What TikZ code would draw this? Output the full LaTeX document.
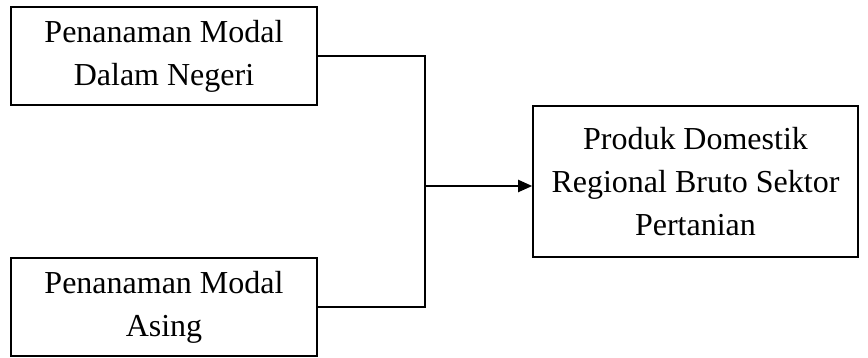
\documentclass[tikz,border=0pt]{standalone}
\usepackage{fontspec}
\setmainfont{Liberation Serif}
\usetikzlibrary{positioning, arrows.meta}

\begin{document}
\begin{tikzpicture}[x=1pt, y=1pt,
      vbox/.style={rectangle, draw=black, line width=0.8pt, inner sep=0pt,
                   minimum width=153pt, minimum height=49pt, align=center,
                   font=\fontsize{16}{21.5}\selectfont},
      ybox/.style={vbox, minimum width=162.5pt, minimum height=75.5pt},
      lnk/.style={draw=black, line width=1pt},
      arr/.style={-{Triangle[length=7pt, width=6pt]}, draw=black, line width=1pt}
    ]
    \useasboundingbox (0,0) rectangle (434,179);

    \node[vbox] (pmdn) at (82, 151)   {Penanaman Modal\\Dalam Negeri};
    \node[vbox] (pma)  at (82, 25.5)  {Penanaman Modal\\Asing};
    \node[ybox] (pdrb) at (347.75, 88.25)
          {Produk Domestik\\Regional Bruto Sektor\\Pertanian};

    \coordinate (junc) at (212.5, 86);

    \draw[lnk] (pmdn.east) -| (junc);
    \draw[lnk] (pma.east)  -| (junc);
    \draw[arr] (junc) -- (pdrb.west |- junc);
  \end{tikzpicture}
\end{document}
